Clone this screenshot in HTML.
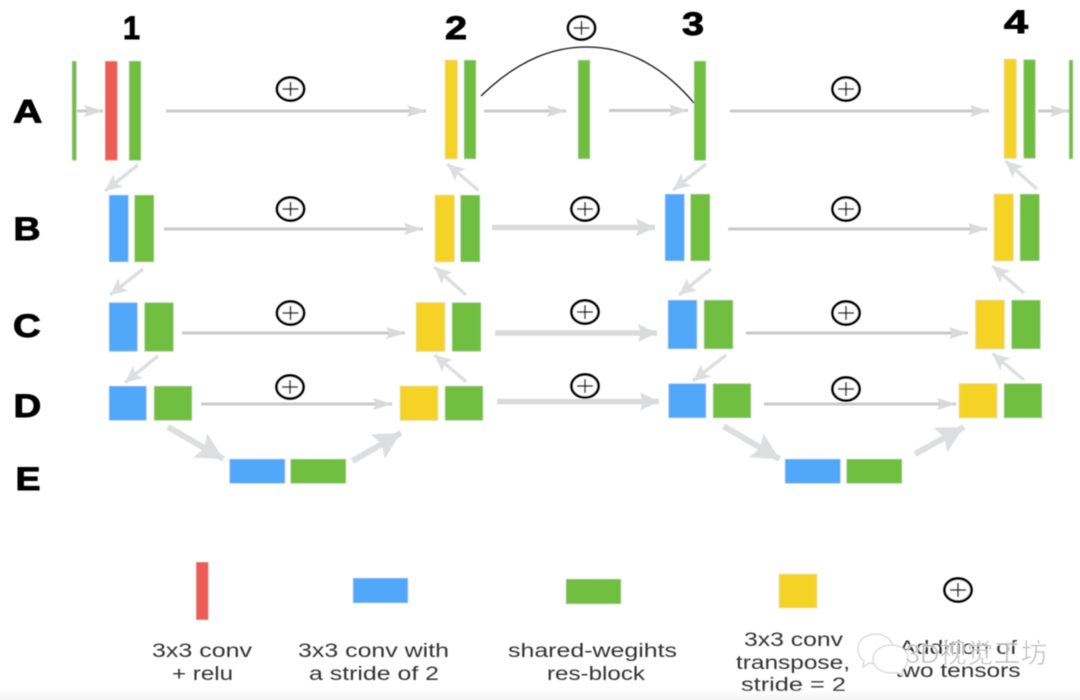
<!DOCTYPE html>
<html><head><meta charset="utf-8"><style>
html,body{margin:0;padding:0;background:#fff;width:1080px;height:700px;overflow:hidden}
svg{display:block}
.L{font:bold 32px "Liberation Sans",sans-serif;fill:#000;stroke:#000;stroke-width:.9}
.T{font:19px "Liberation Sans",sans-serif;fill:#333;text-anchor:middle}
.g{fill:#70bf41;stroke:#d9dcd6;stroke-width:.6}.b{fill:#51a7f9;stroke:#d6dce2;stroke-width:.6}.y{fill:#f5d328;stroke:#e2dcc4;stroke-width:.6}.r{fill:#ec5d57;stroke:#e6d6d6;stroke-width:.6}
.h line{stroke:#cacaca;stroke-width:3;marker-end:url(#mh)}
.m line{stroke:#dadadc;stroke-width:5.500;marker-end:url(#mm)}
.d line{stroke:#dddee0;stroke-width:3.400;marker-end:url(#md)}
.t line{stroke:#dddee0;stroke-width:6;marker-end:url(#mt)}
.p ellipse{fill:#fff;stroke:#000;stroke-width:2.700}
.p path{stroke:#111;stroke-width:1.500;fill:none}
</style></head><body>
<svg width="1080" height="700" viewBox="0 0 1080 700" xmlns="http://www.w3.org/2000/svg">
<defs>
<marker id="mh" markerUnits="userSpaceOnUse" markerWidth="20" markerHeight="12" refX="19" refY="6" orient="auto"><path d="M0 0L19 6L0 12L3 6Z" fill="#d8d9db"/></marker>
<marker id="mm" markerUnits="userSpaceOnUse" markerWidth="20" markerHeight="18" refX="19" refY="9" orient="auto"><path d="M0 0L19 9L0 18L3 9Z" fill="#dadbdc"/></marker>
<marker id="md" markerUnits="userSpaceOnUse" markerWidth="18" markerHeight="16" refX="17" refY="8" orient="auto"><path d="M0 0L17 8L0 16L4 8Z" fill="#dddee0"/></marker>
<marker id="mt" markerUnits="userSpaceOnUse" markerWidth="28" markerHeight="28" refX="27" refY="14" orient="auto"><path d="M0 0L27 14L0 28L5 14Z" fill="#dddee0"/></marker>
<filter id="s" x="-5%" y="-5%" width="110%" height="110%"><feGaussianBlur stdDeviation="0.55"/></filter>
<linearGradient id="fade" x1="0" y1="0" x2="0" y2="1"><stop offset="0" stop-color="#f7f7f7" stop-opacity="0"/><stop offset="1" stop-color="#f3f3f3"/></linearGradient>
</defs>
<rect width="1080" height="700" fill="#fff"/>
<g filter="url(#s)">
<!-- Row A -->
<rect class="g" x="72" y="61" width="4.5" height="99.5"/>
<rect class="r" x="105" y="61" width="12.5" height="99.5"/>
<rect class="g" x="129" y="61" width="12" height="99.5"/>
<rect class="y" x="445" y="60" width="12.5" height="99"/>
<rect class="g" x="464" y="60" width="12" height="99"/>
<rect class="g" x="578" y="60" width="12" height="99"/>
<rect class="g" x="694" y="61" width="12" height="99.5"/>
<rect class="y" x="1004" y="59" width="12.5" height="99.5"/>
<rect class="g" x="1023.5" y="59.5" width="12" height="99"/>
<rect class="g" x="1069" y="60" width="4" height="99"/>
<!-- Row B -->
<rect class="b" x="109" y="195" width="19.5" height="67"/>
<rect class="g" x="134.5" y="195" width="19.5" height="67"/>
<rect class="y" x="435" y="195" width="19.5" height="67"/>
<rect class="g" x="460.5" y="195" width="19.5" height="67"/>
<rect class="b" x="665" y="194" width="19.5" height="67"/>
<rect class="g" x="690.5" y="194" width="19.5" height="67"/>
<rect class="y" x="994" y="194" width="19.5" height="67"/>
<rect class="g" x="1020" y="194" width="19.5" height="67"/>
<!-- Row C -->
<rect class="b" x="109" y="302.5" width="28.5" height="49"/>
<rect class="g" x="144.5" y="302.5" width="29" height="49"/>
<rect class="y" x="416" y="302.5" width="29" height="49"/>
<rect class="g" x="452" y="302.5" width="29" height="49"/>
<rect class="b" x="668" y="300" width="29" height="49"/>
<rect class="g" x="704" y="300" width="29" height="49"/>
<rect class="y" x="975.5" y="300" width="29" height="49"/>
<rect class="g" x="1011.5" y="300" width="29" height="49"/>
<!-- Row D -->
<rect class="b" x="109" y="386" width="37.5" height="34.5"/>
<rect class="g" x="154" y="386" width="38" height="34.5"/>
<rect class="y" x="400" y="386" width="38" height="34.5"/>
<rect class="g" x="445" y="386" width="38" height="34.5"/>
<rect class="b" x="668.5" y="383.5" width="37.5" height="34.5"/>
<rect class="g" x="713" y="383.5" width="38" height="34.5"/>
<rect class="y" x="959" y="383.5" width="38" height="34.5"/>
<rect class="g" x="1004" y="383.5" width="38" height="34.5"/>
<!-- Row E -->
<rect class="b" x="229.5" y="459" width="55.5" height="24.5"/>
<rect class="g" x="290.5" y="459" width="55.5" height="24.5"/>
<rect class="b" x="785" y="459" width="55.5" height="24.5"/>
<rect class="g" x="846.5" y="459" width="55.5" height="24.5"/>
<!-- Horizontal arrows -->
<g class="h">
<line x1="77" y1="111" x2="103" y2="111"/>
<line x1="166" y1="111" x2="426" y2="111"/>
<line x1="484" y1="111" x2="566" y2="111"/>
<line x1="609" y1="110.5" x2="688" y2="110.5"/>
<line x1="730" y1="111" x2="989" y2="111"/>
<line x1="1038" y1="111" x2="1069" y2="111"/>
<line x1="164" y1="229" x2="423" y2="229"/>
<line x1="728" y1="229" x2="987" y2="229"/>
<line x1="182" y1="333" x2="405" y2="333"/>
<line x1="746" y1="333" x2="968" y2="333"/>
<line x1="201" y1="404" x2="392" y2="404"/>
<line x1="764" y1="404" x2="956" y2="404"/>
</g>
<g class="m">
<line x1="492" y1="227.5" x2="655" y2="227.5"/>
<line x1="495" y1="333" x2="657" y2="333"/>
<line x1="497" y1="401.5" x2="659" y2="401.5"/>
</g>
<!-- Diagonal arrows -->
<g class="d">
<line x1="138" y1="165" x2="105" y2="191"/>
<line x1="478.5" y1="190.5" x2="447.5" y2="164"/>
<line x1="706" y1="164" x2="673" y2="190"/>
<line x1="1037" y1="189" x2="1005.5" y2="161"/>
<line x1="143" y1="269" x2="110" y2="295"/>
<line x1="466" y1="295" x2="434.5" y2="267"/>
<line x1="711" y1="269" x2="679" y2="295"/>
<line x1="1024" y1="293" x2="992.5" y2="266"/>
<line x1="158" y1="356" x2="125" y2="382.5"/>
<line x1="466" y1="381.5" x2="434.5" y2="355"/>
<line x1="726" y1="355" x2="693" y2="381"/>
<line x1="1024" y1="380" x2="992.5" y2="353.5"/>
</g>
<g class="t">
<line x1="168" y1="427" x2="223.5" y2="459"/>
<line x1="352.5" y1="461" x2="401" y2="433"/>
<line x1="723.5" y1="426" x2="779.5" y2="459"/>
<line x1="915" y1="454" x2="964" y2="427"/>
</g>
<!-- Skip curve -->
<path d="M481 96C520 58 555 47 587 47C625 47 662 65 694 103" fill="none" stroke="#111" stroke-width="1.300"/>
<!-- Plus symbols -->
<g class="p">
<g transform="translate(290.5 89)"><ellipse rx="13.5" ry="11.5"/><path d="M-8 0H8M0 -7V7"/></g>
<g transform="translate(290.5 209)"><ellipse rx="13.5" ry="11.5"/><path d="M-8 0H8M0 -7V7"/></g>
<g transform="translate(290.5 313)"><ellipse rx="13.5" ry="11.5"/><path d="M-8 0H8M0 -7V7"/></g>
<g transform="translate(290 387)"><ellipse rx="13.5" ry="11.5"/><path d="M-8 0H8M0 -7V7"/></g>
<g transform="translate(581.5 28)"><ellipse rx="13.5" ry="11.5"/><path d="M-8 0H8M0 -7V7"/></g>
<g transform="translate(585 209)"><ellipse rx="13.5" ry="11.5"/><path d="M-8 0H8M0 -7V7"/></g>
<g transform="translate(585 312)"><ellipse rx="13.5" ry="11.5"/><path d="M-8 0H8M0 -7V7"/></g>
<g transform="translate(585 386)"><ellipse rx="13.5" ry="11.5"/><path d="M-8 0H8M0 -7V7"/></g>
<g transform="translate(846 89)"><ellipse rx="13.5" ry="11.5"/><path d="M-8 0H8M0 -7V7"/></g>
<g transform="translate(846 209)"><ellipse rx="13.5" ry="11.5"/><path d="M-8 0H8M0 -7V7"/></g>
<g transform="translate(846 313)"><ellipse rx="13.5" ry="11.5"/><path d="M-8 0H8M0 -7V7"/></g>
<g transform="translate(846 389)"><ellipse rx="13.5" ry="11.5"/><path d="M-8 0H8M0 -7V7"/></g>
<g transform="translate(958 590)"><ellipse rx="13.5" ry="11.5"/><path d="M-8 0H8M0 -7V7"/></g>
</g>
<!-- Row labels -->
<text class="L" transform="translate(13 122.5) scale(1.27 1)">A</text>
<text class="L" transform="translate(13.500 240) scale(1.17 1)">B</text>
<text class="L" transform="translate(13 337) scale(1.2 1)">C</text>
<text class="L" transform="translate(13.500 417) scale(1.2 1)">D</text>
<text class="L" transform="translate(15.500 490) scale(1.17 1)">E</text>
<text class="L" x="123" y="39" textLength="17" lengthAdjust="spacingAndGlyphs">1</text>
<text class="L" x="445" y="39" textLength="22" lengthAdjust="spacingAndGlyphs">2</text>
<text class="L" x="682" y="35" textLength="22" lengthAdjust="spacingAndGlyphs">3</text>
<text class="L" x="1004" y="33" textLength="24" lengthAdjust="spacingAndGlyphs">4</text>
<!-- Legend -->
<rect class="r" x="196" y="562" width="12.5" height="58"/>
<rect class="b" x="353" y="578" width="55" height="25"/>
<rect class="g" x="566" y="579" width="55" height="25"/>
<rect class="y" x="779" y="574" width="38" height="34"/>
<text class="T" x="202" y="657" textLength="100" lengthAdjust="spacingAndGlyphs">3x3 conv</text>
<text class="T" x="202.5" y="680" textLength="61" lengthAdjust="spacingAndGlyphs">+ relu</text>
<text class="T" x="373.5" y="657" textLength="151" lengthAdjust="spacingAndGlyphs">3x3 conv with</text>
<text class="T" x="374" y="680" textLength="130" lengthAdjust="spacingAndGlyphs">a stride of 2</text>
<text class="T" x="592.5" y="657" textLength="169" lengthAdjust="spacingAndGlyphs">shared-wegihts</text>
<text class="T" x="596" y="680" textLength="98" lengthAdjust="spacingAndGlyphs">res-block</text>
<text class="T" x="793.5" y="646" textLength="99" lengthAdjust="spacingAndGlyphs">3x3 conv</text>
<text class="T" x="793" y="669" textLength="114" lengthAdjust="spacingAndGlyphs">transpose,</text>
<text class="T" x="793.5" y="691" textLength="105" lengthAdjust="spacingAndGlyphs">stride = 2</text>
<text class="T" x="958" y="654" textLength="118" lengthAdjust="spacingAndGlyphs">Addition of</text>
<text class="T" x="958" y="677" textLength="125" lengthAdjust="spacingAndGlyphs">two tensors</text>
<!-- Watermark -->
<g fill="#fff" stroke="#d6d6d6" stroke-width="1.300">
<path d="M876 634c-10 0-18 6-18 15 0 5 2 9 6 12l-1 6 6-4c2 .5 4 .7 6 .7 10 0 18-6 18-14.700s-8-15-17-15Z"/>
<path d="M892 645c-11 0-19 6-19 14s8 14 19 14c2 0 3 0 5-.6l6 3.600-1-6c4-3 6-7 6-11 0-8-7-14-16-14Z"/>
</g>
<text x="905" y="663" font-family="'Liberation Sans','Noto Sans CJK SC',sans-serif" font-size="27" fill="#b4b4b4" stroke="#fff" stroke-width=".6" opacity=".9">3D视觉工坊</text>
</g>
<rect x="0" y="688" width="1080" height="12" fill="url(#fade)"/>
</svg>
</body></html>
